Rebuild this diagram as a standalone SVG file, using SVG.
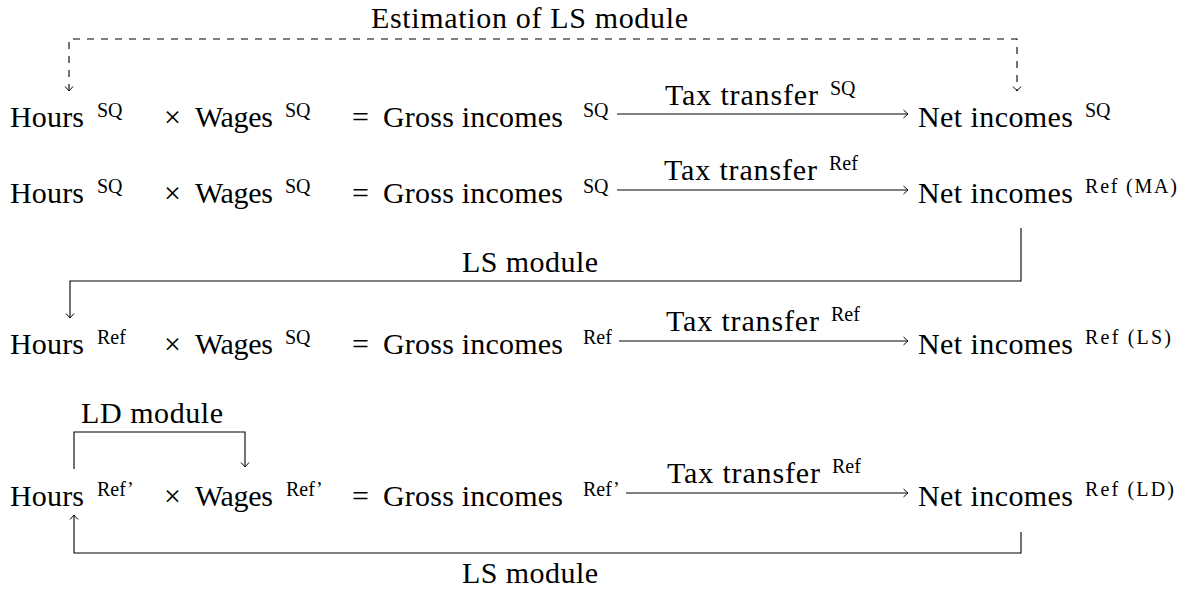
<svg xmlns="http://www.w3.org/2000/svg" width="1190" height="590" viewBox="0 0 1190 590">
<style>
.m,.s{font-family:'Liberation Serif',Tinos,'Noto Serif','DejaVu Serif',FreeSerif,'Times New Roman',serif}
.m{font-size:30px}
.s{font-size:20px}
.ln{fill:none;stroke:#000;stroke-width:1.1}
.dash{stroke-dasharray:7 7}
</style>
<defs>
<marker id="to" viewBox="-6 -5 8 10" markerWidth="8" markerHeight="10" refX="0" refY="0" orient="auto-start-reverse" markerUnits="userSpaceOnUse">
<path d="M-4.5,-4 Q-1,-0.8 0,0 Q-1,0.8 -4.5,4" fill="none" stroke="#000" stroke-width="1"/>
</marker>
</defs>
<rect width="1190" height="590" fill="#fff"/>
<g id="connectors">
<path class="ln dash" d="M69,91 V39 H1017 V91" marker-start="url(#to)" marker-end="url(#to)"/>
<text class="m" x="371" y="28" textLength="317">Estimation of LS module</text>
<line class="ln" x1="617" y1="114" x2="908" y2="114" marker-end="url(#to)"/>
<text class="m" x="665" y="105" textLength="153">Tax transfer</text><text class="s" x="830" y="95">SQ</text>
<line class="ln" x1="617" y1="190" x2="908" y2="190" marker-end="url(#to)"/>
<text class="m" x="664" y="180" textLength="153">Tax transfer</text><text class="s" x="829" y="170">Ref</text>
<path class="ln" d="M1021,228 V281 H70 V318" marker-end="url(#to)"/>
<text class="m" x="462" y="272" textLength="136">LS module</text>
<line class="ln" x1="619" y1="341" x2="908" y2="341" marker-end="url(#to)"/>
<text class="m" x="666" y="331" textLength="153">Tax transfer</text><text class="s" x="831" y="321">Ref</text>
<path class="ln" d="M74,469 V432 H245 V467" marker-end="url(#to)"/>
<text class="m" x="81" y="423" textLength="142">LD module</text>
<line class="ln" x1="626" y1="493" x2="908" y2="493" marker-end="url(#to)"/>
<text class="m" x="667" y="483" textLength="153">Tax transfer</text><text class="s" x="832" y="473">Ref</text>
<path class="ln" d="M1021,532 V553 H74 V515" marker-end="url(#to)"/>
<text class="m" x="462" y="583" textLength="136">LS module</text>
</g>
<g id="r1-hours"><text class="m" x="10" y="127" textLength="74">Hours</text><text class="s" x="97" y="117">SQ</text></g>
<g id="r1-wages"><text class="m" x="164" y="127">×</text><text class="m" x="195" y="127" textLength="78">Wages</text><text class="s" x="285" y="117">SQ</text></g>
<g id="r1-gross"><text class="m" x="352" y="127">=</text><text class="m" x="383" y="127" textLength="180">Gross incomes</text><text class="s" x="583" y="117">SQ</text></g>
<g id="r1-net"><text class="m" x="918" y="127" textLength="155">Net incomes</text><text class="s" x="1085" y="117">SQ</text></g>
<g id="r2-hours"><text class="m" x="10" y="203" textLength="74">Hours</text><text class="s" x="97" y="193">SQ</text></g>
<g id="r2-wages"><text class="m" x="164" y="203">×</text><text class="m" x="195" y="203" textLength="78">Wages</text><text class="s" x="285" y="193">SQ</text></g>
<g id="r2-gross"><text class="m" x="352" y="203">=</text><text class="m" x="383" y="203" textLength="180">Gross incomes</text><text class="s" x="583" y="193">SQ</text></g>
<g id="r2-net"><text class="m" x="918" y="203" textLength="155">Net incomes</text><text class="s" x="1085" y="193" textLength="92">Ref (MA)</text></g>
<g id="r3-hours"><text class="m" x="10" y="354" textLength="74">Hours</text><text class="s" x="97" y="344">Ref</text></g>
<g id="r3-wages"><text class="m" x="164" y="354">×</text><text class="m" x="195" y="354" textLength="78">Wages</text><text class="s" x="285" y="344">SQ</text></g>
<g id="r3-gross"><text class="m" x="352" y="354">=</text><text class="m" x="383" y="354" textLength="180">Gross incomes</text><text class="s" x="583" y="344">Ref</text></g>
<g id="r3-net"><text class="m" x="918" y="354" textLength="155">Net incomes</text><text class="s" x="1085" y="344" textLength="86">Ref (LS)</text></g>
<g id="r4-hours"><text class="m" x="10" y="506" textLength="74">Hours</text><text class="s" x="97" y="496">Ref’</text></g>
<g id="r4-wages"><text class="m" x="164" y="506">×</text><text class="m" x="195" y="506" textLength="78">Wages</text><text class="s" x="286" y="496">Ref’</text></g>
<g id="r4-gross"><text class="m" x="352" y="506">=</text><text class="m" x="383" y="506" textLength="180">Gross incomes</text><text class="s" x="583" y="496">Ref’</text></g>
<g id="r4-net"><text class="m" x="918" y="506" textLength="155">Net incomes</text><text class="s" x="1085" y="496" textLength="89">Ref (LD)</text></g>
</svg>
